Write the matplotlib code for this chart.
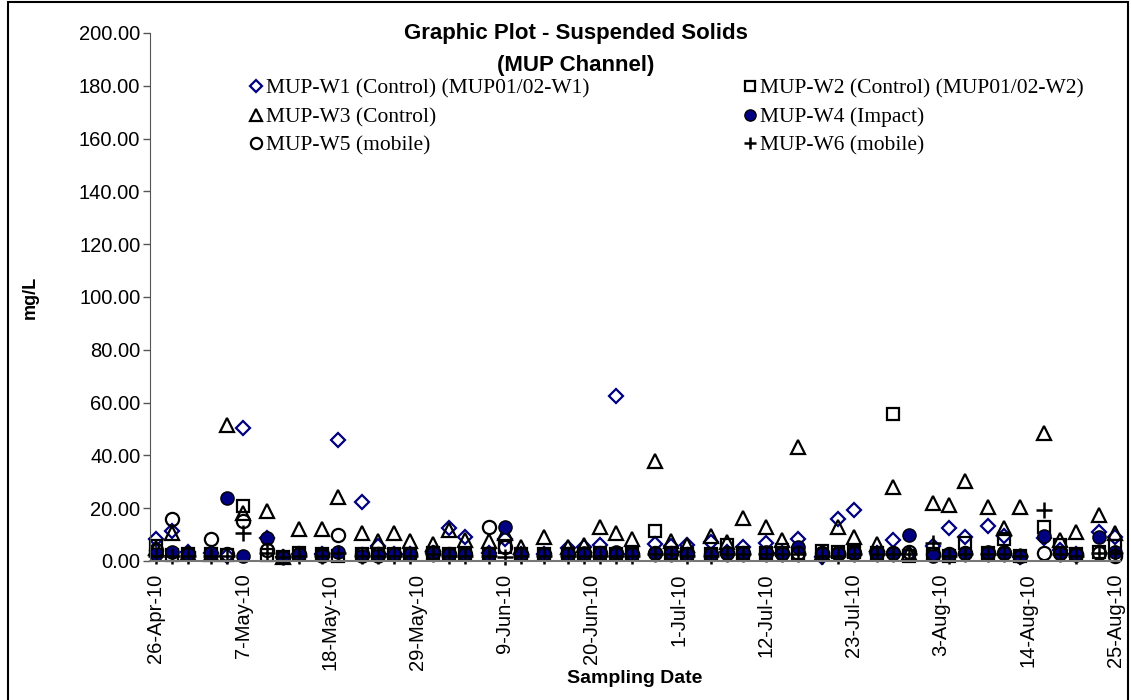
import matplotlib
matplotlib.use("Agg")
import matplotlib.pyplot as plt
import matplotlib.dates as mdates
from matplotlib import font_manager
from matplotlib.patches import Rectangle
import datetime as dt

# ---------------- data ----------------
dates = ["2010-04-26", "2010-04-28", "2010-04-30", "2010-05-03", "2010-05-05", "2010-05-07",
         "2010-05-10", "2010-05-12", "2010-05-14", "2010-05-17", "2010-05-19", "2010-05-22",
         "2010-05-24", "2010-05-26", "2010-05-28", "2010-05-31", "2010-06-02", "2010-06-04",
         "2010-06-07", "2010-06-09", "2010-06-11", "2010-06-14", "2010-06-17", "2010-06-19",
         "2010-06-21", "2010-06-23", "2010-06-25", "2010-06-28", "2010-06-30", "2010-07-02",
         "2010-07-05", "2010-07-07", "2010-07-09", "2010-07-12", "2010-07-14", "2010-07-16",
         "2010-07-19", "2010-07-21", "2010-07-23", "2010-07-26", "2010-07-28", "2010-07-30",
         "2010-08-02", "2010-08-04", "2010-08-06", "2010-08-09", "2010-08-11", "2010-08-13",
         "2010-08-16", "2010-08-18", "2010-08-20", "2010-08-23", "2010-08-25"]

w1 = [8.2, 11.5, 3.5, 3, 2, 50.2, 8.7, 1.5, 2.5, 2.5, 45.8, 22.3, 5.5, 2.5, 2.5, 3, 12.6, 9.2,
      3, 8.2, 2.5, 2.5, 4.8, 5.4, 6, 62.5, 2.5, 6.4, 5.5, 6, 7.3, 3.5, 5.4, 6.7, 3, 8.2,
      1.5, 15.8, 19.3, 3, 8, 2.5, 5.8, 12.4, 9, 13.3, 9.5, 1.5, 8.8, 4, 2.5, 11.1, 9.2]
w2 = [5.8, 2.3, 2.5, 2.5, 2.3, 21, 2.3, 1.6, 2.9, 2.5, 2, 2.5, 2.5, 2.5, 2.5, 3, 2.5, 2.5,
      2.5, 5.4, 2.5, 2.5, 2.5, 2.5, 3, 2.5, 2.5, 11.4, 3, 2.5, 2.5, 6, 3, 3, 4, 3,
      3.9, 3.5, 3.5, 3, 55.7, 2, 2.5, 2, 6.9, 3, 8.2, 2, 13, 6, 2.5, 3.5, 5.8]
w3 = [5, 10.7, 3, 2.5, 51.5, 18, 18.8, 1.5, 12, 12, 24.4, 10.7, 7.5, 10.7, 7.5, 6.4, 11.8, 8,
      7.6, 10.5, 5.4, 9.2, 5.4, 6, 13, 10.7, 8.2, 37.9, 7.7, 6, 9.5, 7.3, 16.2, 13, 8, 43,
      3, 12.8, 9.2, 6.4, 27.9, 3, 22, 21.2, 30.4, 20.6, 12.4, 20.6, 48.6, 8, 11.1, 17.4, 10.5]
w4 = [2.6, 3.5, 2.5, 3, 24, 2, 8.8, 1.5, 2.5, 2, 3.5, 2, 2, 2.5, 2.5, 3.5, 2.5, 2.5,
      2.5, 13, 2.5, 2.5, 2.5, 3, 3, 3.5, 2.5, 3, 3, 2.5, 2.5, 3, 3, 3.5, 2.6, 5.4,
      2.5, 2.5, 3.5, 2.9, 3.2, 9.8, 2, 2.5, 3.2, 3.5, 3.5, 2, 9.5, 3, 2.3, 9.2, 3.5]
w5 = [4, 15.8, 2.5, 8.2, 2.5, 15.3, 4.2, 1.5, 2.5, 2.5, 9.8, 2.5, 2.5, 2.5, 2.5, 3, 2.5, 2.5,
      12.7, 5.4, 2.5, 2.5, 2.5, 2.5, 3, 2.5, 2.5, 3, 3, 2.5, 2.5, 3, 3, 3, 3, 3,
      3, 3, 3, 3, 3, 3.5, 2.5, 2.5, 3, 3, 3, 2, 3, 3, 2.5, 3, 2]
w6 = [2, 2, 2, 2, 2, 10.7, 3, 1.5, 2, 2, 3, 2, 2, 2, 2, 2.5, 2, 2,
      2, 1.6, 2, 2, 2, 2, 2, 2, 2, 2.5, 2.5, 2, 2, 2.5, 2.5, 2.5, 2.5, 2.5,
      2, 2, 2.5, 2.5, 2.5, 2.5, 6.7, 2, 2.5, 2.5, 2.5, 2, 19.3, 2.5, 2, 3, 3]

series_names = ["MUP-W1 (Control) (MUP01/02-W1)", "MUP-W2 (Control) (MUP01/02-W2)",
                "MUP-W3 (Control)", "MUP-W4 (Impact)", "MUP-W5 (mobile)", "MUP-W6 (mobile)"]

tick_dates = ["2010-04-26", "2010-05-07", "2010-05-18", "2010-05-29", "2010-06-09", "2010-06-20",
              "2010-07-01", "2010-07-12", "2010-07-23", "2010-08-03", "2010-08-14", "2010-08-25"]
tick_labels = ["26-Apr-10", "7-May-10", "18-May-10", "29-May-10", "9-Jun-10", "20-Jun-10",
               "1-Jul-10", "12-Jul-10", "23-Jul-10", "3-Aug-10", "14-Aug-10", "25-Aug-10"]
y_ticks = [0, 20, 40, 60, 80, 100, 120, 140, 160, 180, 200]

# ---------------- fonts ----------------
avail = {f.name for f in font_manager.fontManager.ttflist}
def pick(*names):
    return [n for n in names if n in avail] + ["DejaVu Sans"]
narrow = pick("Liberation Sans Narrow", "Liberation Sans")
sans = pick("Liberation Sans")
serif = pick("Liberation Serif", "DejaVu Serif")

# ---------------- figure ----------------
W, H = 1131, 700
fig = plt.figure(figsize=(W / 100, H / 100), dpi=100)
ax = fig.add_axes([150 / W, 1 - 561 / H, (1120 - 150) / W, (561 - 33) / H])

x = [dt.datetime.strptime(d, "%Y-%m-%d") for d in dates]
navy = "#000080"
styles = [
    dict(marker="D", ms=7.5, mfc="none", mec=navy, mew=1.6),
    dict(marker="s", ms=9, mfc="none", mec="black", mew=1.6),
    dict(marker="^", ms=10.5, mfc="none", mec="black", mew=1.6),
    dict(marker="o", ms=9.5, mfc=navy, mec="black", mew=1.0),
    dict(marker="o", ms=9.5, mfc="none", mec="black", mew=1.6),
    dict(marker="+", ms=11, mfc="none", mec="black", mew=1.8),
]
vals = [w1, w2, w3, w4, w5, w6]
handles = []
for v, st, name in zip(vals, styles, series_names):
    h, = ax.plot(x, v, linestyle="none", label=name, clip_on=False, **st)
    handles.append(h)

ax.set_ylim(0, 200)
ax.set_yticks(y_ticks)
ax.set_yticklabels([f"{t:.2f}" for t in y_ticks], fontsize=14.5, family=narrow)

x0 = dt.datetime(2010, 4, 26)
ax.set_xlim(mdates.date2num(x0) - 0.75, mdates.date2num(dt.datetime(2010, 8, 25)) + 0.6)
ax.set_xticks([dt.datetime.strptime(d, "%Y-%m-%d") for d in tick_dates])
ax.set_xticklabels(tick_labels, rotation=90, fontsize=14.5, family=sans)
ax.tick_params(axis="x", length=0, pad=9)
ax.tick_params(axis="y", length=5, width=1, direction="out", pad=2, color="#555555")

for s in ["top", "right"]:
    ax.spines[s].set_visible(False)
ax.spines["left"].set_color("#555555")
ax.spines["bottom"].set_color("#777777")
ax.spines["bottom"].set_linewidth(1.5)

ax.set_ylabel("mg/L", fontsize=13, fontweight="bold", family=narrow, labelpad=0)
ax.yaxis.set_label_coords(-111 / 970, 0.5)
ax.set_xlabel("Sampling Date", fontsize=14, fontweight="bold", family=narrow)
ax.xaxis.set_label_coords(0.5, -(670 - 561) / 528)

fig.text(576 / W, 1 - 33 / H, "Graphic Plot - Suspended Solids", ha="center", va="center",
         fontsize=16, fontweight="bold", family=narrow)
fig.text(576 / W, 1 - 66 / H, "(MUP Channel)", ha="center", va="center",
         fontsize=16, fontweight="bold", family=narrow)

order = [0, 2, 4, 1, 3, 5]
leg = ax.legend([handles[i] for i in order], [series_names[i] for i in order], ncol=2,
                loc="upper left", bbox_to_anchor=((240 - 150) / 970, 1 - (70 - 33) / 528),
                frameon=False, prop={"family": serif, "size": 15.5}, handlelength=0.7,
                handletextpad=0.12, columnspacing=7.1, labelspacing=0.39, borderaxespad=0,
                markerscale=0.85)

fig.patches.append(Rectangle((8 / W, -0.01), (1128 - 8) / W, 1 - 2 / H + 0.01,
                             transform=fig.transFigure, fill=False, edgecolor="black",
                             linewidth=1.5))

fig.savefig("out.png", dpi=100)
